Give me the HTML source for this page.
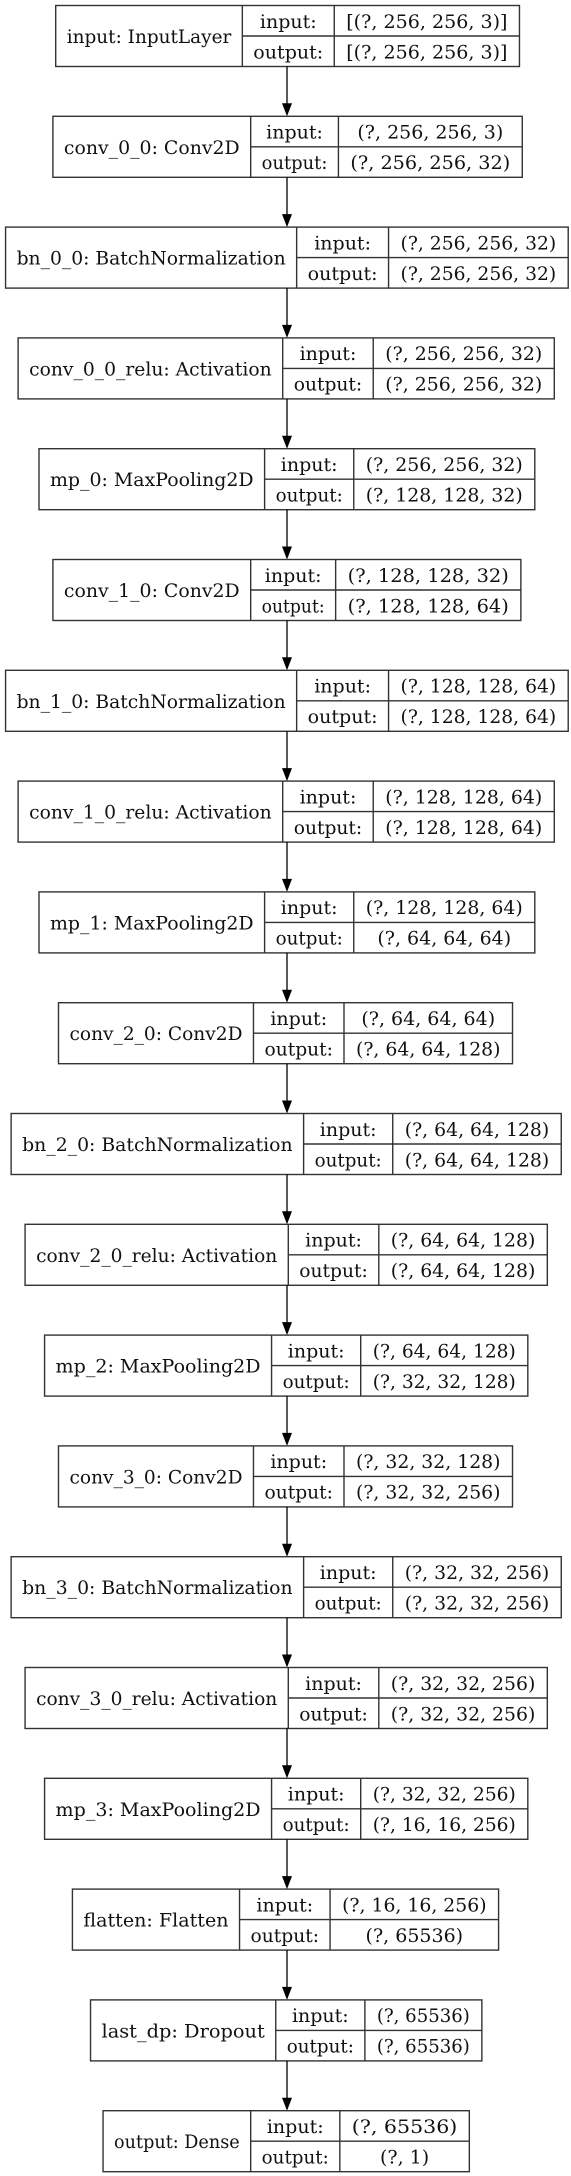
<!DOCTYPE html>
<html><head><meta charset="utf-8"><style>
html,body{margin:0;padding:0;background:#fff;}
svg{display:block;}
text{font-family:"DejaVu Serif","Liberation Serif",serif;font-size:19px;fill:#111;}
</style></head><body>
<svg id="g" width="571" height="2176" viewBox="0 0 571 2176"></svg>
<script>
const names=["input: InputLayer","conv_0_0: Conv2D","bn_0_0: BatchNormalization","conv_0_0_relu: Activation","mp_0: MaxPooling2D","conv_1_0: Conv2D","bn_1_0: BatchNormalization","conv_1_0_relu: Activation","mp_1: MaxPooling2D","conv_2_0: Conv2D","bn_2_0: BatchNormalization","conv_2_0_relu: Activation","mp_2: MaxPooling2D","conv_3_0: Conv2D","bn_3_0: BatchNormalization","conv_3_0_relu: Activation","mp_3: MaxPooling2D","flatten: Flatten","last_dp: Dropout","output: Dense"];
const inputs=["[(?, 256, 256, 3)]","(?, 256, 256, 3)","(?, 256, 256, 32)","(?, 256, 256, 32)","(?, 256, 256, 32)","(?, 128, 128, 32)","(?, 128, 128, 64)","(?, 128, 128, 64)","(?, 128, 128, 64)","(?, 64, 64, 64)","(?, 64, 64, 128)","(?, 64, 64, 128)","(?, 64, 64, 128)","(?, 32, 32, 128)","(?, 32, 32, 256)","(?, 32, 32, 256)","(?, 32, 32, 256)","(?, 16, 16, 256)","(?, 65536)","(?, 65536)"];
const outputs=["[(?, 256, 256, 3)]","(?, 256, 256, 32)","(?, 256, 256, 32)","(?, 256, 256, 32)","(?, 128, 128, 32)","(?, 128, 128, 64)","(?, 128, 128, 64)","(?, 128, 128, 64)","(?, 64, 64, 64)","(?, 64, 64, 128)","(?, 64, 64, 128)","(?, 64, 64, 128)","(?, 32, 32, 128)","(?, 32, 32, 256)","(?, 32, 32, 256)","(?, 32, 32, 256)","(?, 16, 16, 256)","(?, 65536)","(?, 65536)","(?, 1)"];
const left=[40,38,4,13,28,38,4,13,28,42,8,18,32,42,8,18,32,52,65,74];
const split1=[174,180,213,203,190,180,213,203,190,182,218,207,195,182,218,207,195,172,198,180];
const split2=[240,243,279,268,254,241,279,268,254,247,282,272,259,247,282,272,259,237,262,244];
const right=[373,375,408,398,384,374,408,398,384,368,403,393,379,368,403,393,379,358,346,337];
const SX=571/410, TOP=5.5, STEP=110.8, H=61, AX=287;
const NS="http://www.w3.org/2000/svg";
const g=document.getElementById('g');
function mk(t,a){const e=document.createElementNS(NS,t);for(const k in a)e.setAttribute(k,a[k]);return e;}
function txt(x,y,s,w){const e=mk('text',{x:x,y:y,'text-anchor':'middle','dominant-baseline':'central'});if(w)e.setAttribute('textLength',w),e.setAttribute('lengthAdjust','spacingAndGlyphs');e.textContent=s;return e;}
names.forEach((n,i)=>{
  const y=TOP+i*STEP, x0=left[i]*SX, a=split1[i]*SX, b=split2[i]*SX, x1=right[i]*SX, m=y+H/2;
  const grp=mk('g',{});
  
  
  grp.appendChild(mk('rect',{x:x0,y:y,width:x1-x0,height:H,fill:'none',stroke:'#333',"stroke-width":1.4}));
  grp.appendChild(mk('line',{x1:a,y1:y,x2:a,y2:y+H,stroke:'#333',"stroke-width":1.4}));
  grp.appendChild(mk('line',{x1:b,y1:y,x2:b,y2:y+H,stroke:'#333',"stroke-width":1.4}));
  grp.appendChild(mk('line',{x1:a,y1:m,x2:x1,y2:m,stroke:'#333',"stroke-width":1.4}));
  const nt=txt((x0+a)/2,m+1,n,(a-x0)-22);
  
  
  grp.appendChild(nt);
  const il=txt((a+b)/2,y+H/4+1,'input:');
  
  
  grp.appendChild(il);
  const ol=txt((a+b)/2,y+3*H/4+1,'output:',(b-a)-22);
  
  
  grp.appendChild(ol);
  const vw=(x1-b)-24, li=inputs[i].length, lo=outputs[i].length;
  const iv=txt((b+x1)/2,y+H/4+1,inputs[i],li>=lo?vw:null);
  
  
  grp.appendChild(iv);
  const ov=txt((b+x1)/2,y+3*H/4+1,outputs[i],lo>=li?vw:null);
  
  
  grp.appendChild(ov);
  g.appendChild(grp);
  if(i<names.length-1){
    const ny=TOP+(i+1)*STEP;
    const ar=mk('g',{});
    
    
    ar.appendChild(mk('line',{x1:AX,y1:y+H,x2:AX,y2:ny-12,stroke:'#000',"stroke-width":1.3}));
    ar.appendChild(mk('polygon',{points:`${AX-5},${ny-13} ${AX+5},${ny-13} ${AX},${ny}`,fill:'#000'}));
    g.appendChild(ar);
  }
});
</script>
</body></html>
